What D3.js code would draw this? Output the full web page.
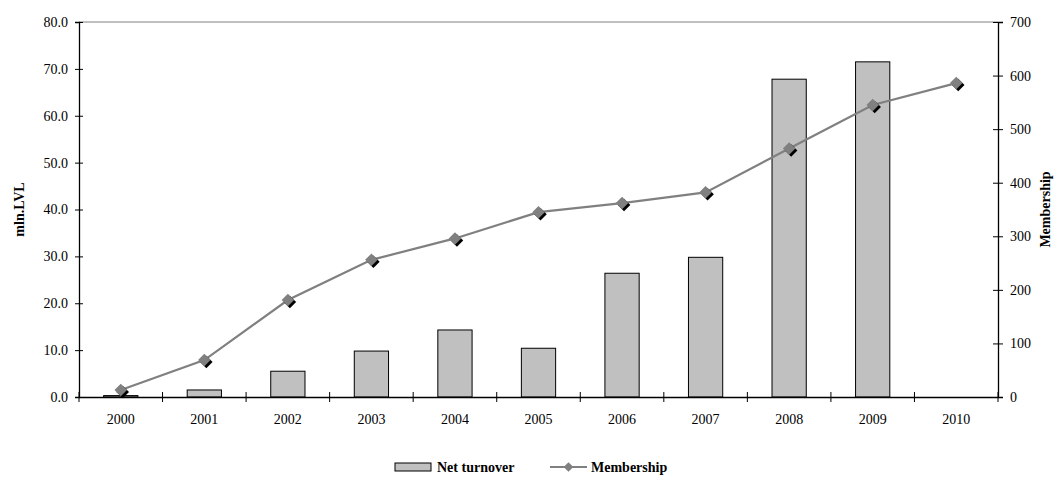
<!DOCTYPE html>
<html>
<head>
<meta charset="utf-8">
<script src="https://cdn.jsdelivr.net/npm/d3@7"></script>
<style>
    body { margin: 0; background: #fff; }
    svg { display: block; }
</style>
</head>
<body>
<script>
// 年份
const years = ['2000', '2001', '2002', '2003', '2004', '2005', '2006', '2007', '2008', '2009', '2010'];
// 净营业额（百万拉特）
const turnover = [0.3, 1.5, 5.5, 9.8, 14.3, 10.4, 26.4, 29.8, 67.8, 71.5, null];
// 会员数
const membership = [13, 69, 181, 256, 296, 345, 362, 382, 464, 545, 586];
// 刻度
const leftTicks = [0, 10, 20, 30, 40, 50, 60, 70, 80];
const rightTicks = [0, 100, 200, 300, 400, 500, 600, 700];

const width = 1058;
const height = 477;
const padding = {top: 22, right: 60, bottom: 80, left: 79};
const font = '"Liberation Serif", "Times New Roman", serif';

const svg = d3.select('body')
    .append('svg')
    .attr('width', width)
    .attr('height', height)
    .attr('font-family', font);

const x = d3.scaleBand()
    .domain(years)
    .range([padding.left, width - padding.right])
    .paddingInner(0)
    .paddingOuter(0);

const yLeft = d3.scaleLinear()
    .domain([0, 80])
    .range([height - padding.bottom, padding.top]);

const yRight = d3.scaleLinear()
    .domain([0, 700])
    .range([height - padding.bottom, padding.top]);

const barWidth = x.bandwidth() * 0.41;
const bottomY = height - padding.bottom;

// 上边框
svg.append('line')
    .attr('x1', padding.left)
    .attr('x2', width - padding.right)
    .attr('y1', padding.top)
    .attr('y2', padding.top)
    .attr('stroke', '#808080')
    .attr('stroke-width', 1);

// 柱形
svg.selectAll('rect.bar')
    .data(years.map((y, i) => ({year: y, v: turnover[i]})).filter(d => d.v !== null))
    .enter()
    .append('rect')
    .attr('class', 'bar')
    .attr('x', d => x(d.year) + (x.bandwidth() - barWidth) / 2)
    .attr('y', d => yLeft(d.v))
    .attr('width', barWidth)
    .attr('height', d => bottomY - yLeft(d.v))
    .attr('fill', '#c0c0c0')
    .attr('stroke', '#000')
    .attr('stroke-width', 1);

// 左轴
const leftAxis = svg.append('g')
    .attr('transform', `translate(${padding.left},0)`)
    .call(d3.axisLeft(yLeft).tickValues(leftTicks).tickFormat(d3.format('.1f')).tickSize(4).tickPadding(7));
leftAxis.selectAll('.tick line').attr('x1', -4).attr('x2', 4);

// 右轴
const rightAxis = svg.append('g')
    .attr('transform', `translate(${width - padding.right},0)`)
    .call(d3.axisRight(yRight).tickValues(rightTicks).tickSize(5).tickPadding(7));
rightAxis.selectAll('.tick line').attr('x1', -5).attr('x2', 5);

// 横轴
const bottomAxis = svg.append('g')
    .attr('transform', `translate(0,${bottomY})`)
    .call(d3.axisBottom(x).tickSize(0).tickPadding(17));

// 分类之间的刻度
bottomAxis.selectAll('line.sep')
    .data(years.concat(['end']))
    .enter()
    .append('line')
    .attr('class', 'sep')
    .attr('x1', (d, i) => padding.left + i * x.step())
    .attr('x2', (d, i) => padding.left + i * x.step())
    .attr('y1', -5)
    .attr('y2', 5)
    .attr('stroke', '#000');

[leftAxis, rightAxis, bottomAxis].forEach(g => {
    g.attr('font-family', font).attr('font-size', 14);
    g.selectAll('text')
        .attr('fill', '#000');
    g.select('.domain').attr('stroke', '#000').attr('stroke-width', 1.3);
    g.selectAll('.tick line').attr('stroke', '#000');
});

// 会员数折线
const line = d3.line()
    .x((d, i) => x(years[i]) + x.bandwidth() / 2)
    .y(d => yRight(d));

svg.append('path')
    .datum(membership)
    .attr('d', line)
    .attr('fill', 'none')
    .attr('stroke', '#808080')
    .attr('stroke-width', 2.2);

const diamond = d3.symbol().type(d3.symbolDiamond2).size(100);

/**
 * 画菱形标记
 *
 * @param {Object} g 容器
 * @param {number} cx 横坐标
 * @param {number} cy 纵坐标
 */
function drawMarker(g, cx, cy) {
    g.append('path')
        .attr('d', diamond())
        .attr('transform', `translate(${cx + 2},${cy + 2})`)
        .attr('fill', '#000');
    g.append('path')
        .attr('d', diamond())
        .attr('transform', `translate(${cx},${cy})`)
        .attr('fill', '#808080');
}

const markers = svg.append('g');
membership.forEach((d, i) => {
    drawMarker(markers, x(years[i]) + x.bandwidth() / 2, yRight(d));
});

// 轴标题
svg.append('text')
    .attr('transform', `translate(24,${(padding.top + bottomY) / 2}) rotate(-90)`)
    .attr('text-anchor', 'middle')
    .attr('font-size', '14px')
    .attr('font-weight', 'bold')
    .text('mln.LVL');

svg.append('text')
    .attr('transform', `translate(1050,${(padding.top + bottomY) / 2}) rotate(-90)`)
    .attr('text-anchor', 'middle')
    .attr('font-size', '14px')
    .attr('font-weight', 'bold')
    .text('Membership');

// 图例
const legend = svg.append('g').attr('transform', 'translate(0,467)');
legend.append('rect')
    .attr('x', 395)
    .attr('y', -4)
    .attr('width', 36)
    .attr('height', 8)
    .attr('fill', '#c0c0c0')
    .attr('stroke', '#000');
legend.append('text')
    .attr('x', 437)
    .attr('y', 5)
    .attr('font-size', '14px')
    .attr('font-weight', 'bold')
    .text('Net turnover');
legend.append('line')
    .attr('x1', 550)
    .attr('x2', 587)
    .attr('y1', 0)
    .attr('y2', 0)
    .attr('stroke', '#808080')
    .attr('stroke-width', 2.2);
legend.append('path')
    .attr('d', d3.symbol().type(d3.symbolDiamond2).size(60)())
    .attr('transform', 'translate(568.5,0)')
    .attr('fill', '#808080');
legend.append('text')
    .attr('x', 591)
    .attr('y', 5)
    .attr('font-size', '14px')
    .attr('font-weight', 'bold')
    .text('Membership');
</script>
</body>
</html>
